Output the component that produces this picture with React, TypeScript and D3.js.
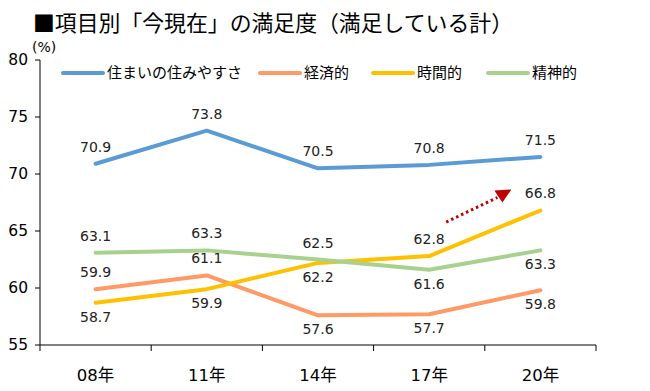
import React from 'react';
import * as d3 from 'd3';

// カテゴリと系列データ
const years = ['08年', '11年', '14年', '17年', '20年'];
const seriesNames = ['住まいの住みやすさ', '経済的', '時間的', '精神的'];
const sumai = [70.9, 73.8, 70.5, 70.8, 71.5];
const keizai = [59.9, 61.1, 57.6, 57.7, 59.8];
const jikan = [58.7, 59.9, 62.2, 62.8, 66.8];
const seishin = [63.1, 63.3, 62.5, 61.6, 63.3];
const yTicks = [55, 60, 65, 70, 75, 80];
// ラベル位置: 1 = 上, -1 = 下
const sumaiPos = [1, 1, 1, 1, 1];
const keizaiPos = [1, 1, -1, -1, -1];
const jikanPos = [-1, -1, -1, 1, 1];
const seishinPos = [1, 1, 1, -1, -1];

const colors = ['#5B9BD5', '#FF9966', '#FFC000', '#A9D18E'];

const W = 650;
const H = 391;
const left = 40;
const right = 596;
const top = 60;
const bottom = 345;

const numFont = '"DejaVu Sans", "Noto Sans CJK JP", sans-serif';
const jpFont = '"Noto Sans CJK JP", sans-serif';

export default function App() {
  const x = d3.scalePoint<string>().domain(years).range([left, right]).padding(0.5);
  const y = d3.scaleLinear().domain([55, 80]).range([bottom, top]);
  const band = (right - left) / years.length;

  const series = [
    { name: seriesNames[0], values: sumai, pos: sumaiPos, color: colors[0] },
    { name: seriesNames[1], values: keizai, pos: keizaiPos, color: colors[1] },
    { name: seriesNames[2], values: jikan, pos: jikanPos, color: colors[2] },
    { name: seriesNames[3], values: seishin, pos: seishinPos, color: colors[3] },
  ];

  const line = d3.line<number>()
    .x((_, i) => x(years[i]) as number)
    .y(d => y(d));

  // 凡例の位置
  const legendX = [63, 260, 373, 488];

  // 矢印（17年→20年の上昇を示す）
  const ax1 = (x(years[3]) as number) + 17;
  const ay1 = y(jikan[3]) - 34;
  const ax2 = (x(years[4]) as number) - 43;
  const ay2 = y(jikan[4]) - 13;

  return (
    <div style={{ position: 'fixed', left: 0, top: 0 }}>
      <svg width={W} height={H} style={{ display: 'block', background: '#fff' }}>
        <text x={33} y={31} fontFamily={jpFont} fontSize={22} fontWeight={400} fill="#000" textLength={480} lengthAdjust="spacingAndGlyphs">
          ■項目別「今現在」の満足度（満足している計）
        </text>
        <text x={32} y={52} fontFamily={numFont} fontSize={14} fill="#000">(%)</text>

        {/* Y軸 */}
        <line x1={left} x2={left} y1={top} y2={bottom} stroke="#000" strokeWidth={1} />
        {yTicks.map(t => (
          <g key={t}>
            <line x1={left - 5} x2={left} y1={y(t)} y2={y(t)} stroke="#000" />
            <text x={28} y={y(t)} dy="0.35em" textAnchor="end" fontFamily={numFont} fontSize={15.5} fill="#000">
              {t}
            </text>
          </g>
        ))}

        {/* X軸 */}
        <line x1={left} x2={right} y1={bottom} y2={bottom} stroke="#000" strokeWidth={1} />
        {years.map((yr, i) => (
          <line key={yr} x1={left + band * i} x2={left + band * i} y1={bottom} y2={bottom + 6} stroke="#000" />
        ))}
        <line x1={right} x2={right} y1={bottom} y2={bottom + 6} stroke="#000" />
        {years.map(yr => (
          <text key={yr} x={x(yr)} y={381} textAnchor="middle" fontFamily={numFont} fontSize={16.5} fill="#000">
            {yr}
          </text>
        ))}

        {/* 系列 */}
        {series.map(s => (
          <path key={s.name} d={line(s.values) || ''} fill="none" stroke={s.color} strokeWidth={4} strokeLinecap="round" strokeLinejoin="round" />
        ))}
        {series.map(s => s.values.map((v, i) => (
          <text
            key={s.name + i}
            x={x(years[i])}
            y={y(v) + (s.pos[i] > 0 ? -12 : 19)}
            textAnchor="middle"
            fontFamily={numFont}
            fontSize={14}
            fill="#222"
          >
            {v.toFixed(1)}
          </text>
        )))}

        {/* 矢印 */}
        <line x1={ax1} y1={ay1} x2={ax2} y2={ay2} stroke="#C00000" strokeWidth={3} strokeDasharray="2.5 3" />
        <path d={`M${ax2 - 3},${ay2 - 7} L${ax2 + 14},${ay2 - 8} L${ax2 + 5},${ay2 + 5} Z`} fill="#C00000" />

        {/* 凡例 */}
        {series.map((s, i) => (
          <g key={s.name} transform={`translate(${legendX[i]},73)`}>
            <line x1={0} x2={40} y1={0} y2={0} stroke={s.color} strokeWidth={4} strokeLinecap="round" />
            <text x={44} y={0} dy="0.35em" fontFamily={jpFont} fontSize={15} fill="#000">{s.name}</text>
          </g>
        ))}
      </svg>
    </div>
  );
}
